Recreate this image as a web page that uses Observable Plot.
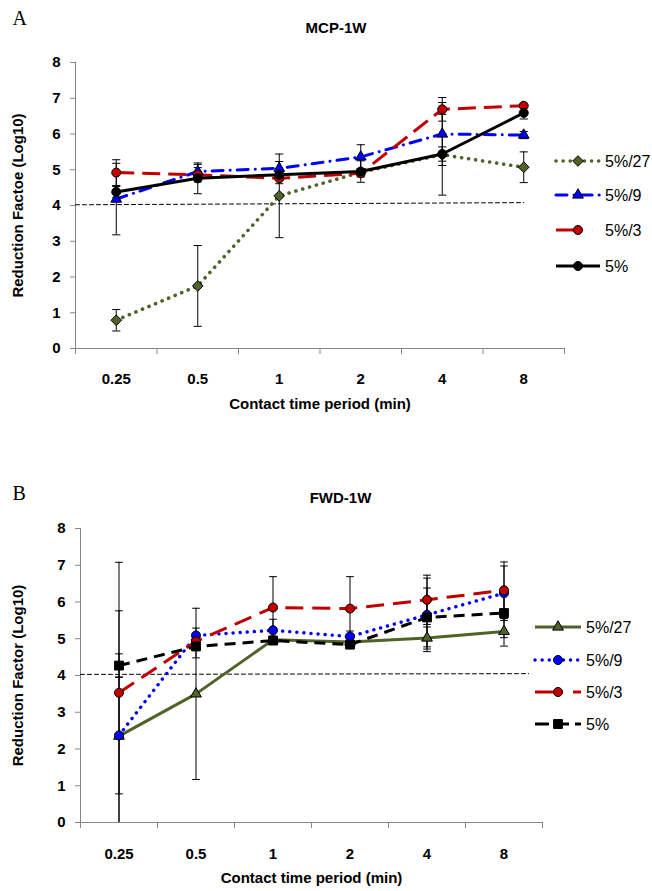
<!DOCTYPE html>
<html><head><meta charset="utf-8">
<script src="https://cdn.jsdelivr.net/npm/d3@7"></script>
<script src="https://cdn.jsdelivr.net/npm/@observablehq/plot@0.6"></script>
<style>body{margin:0;background:#fff} svg{display:block}</style>
</head><body><div id="chart"></div><script>
// ---- data ----
const times = ["0.25", "0.5", "1", "2", "4", "8"];
const seriesNames = ["5%/27", "5%/9", "5%/3", "5%"];
const yTicks = [0, 1, 2, 3, 4, 5, 6, 7, 8];

// Panel A: MCP-1W
const a27 = [0.79, 1.75, 4.27, 4.93, 5.42, 5.07];
const a9  = [4.18, 4.95, 5.04, 5.36, 6.00, 5.97];
const a3  = [4.92, 4.86, 4.76, 4.90, 6.69, 6.79];
const a5  = [4.38, 4.76, 4.86, 4.95, 5.44, 6.59];
const a27Err = [0.30, 1.13, 1.17, 0.10, 1.13, 0.43];
const a9Err  = [1.00, 0.20, 0.19, 0.34, 0.88, 0.10];
const a3Err  = [0.36, 0.20, 0.15, 0.10, 0.33, 0.05];
const a5Err  = [0.15, 0.43, 0.15, 0.30, 0.20, 0.17];
const aRefX = [-0.5, 5.0];
const aRefY = [4.02, 4.08];

// Panel B: FWD-1W
const b27 = [2.35, 3.50, 4.97, 4.91, 5.02, 5.20];
const b9  = [2.37, 5.09, 5.23, 5.06, 5.65, 6.24];
const b3  = [3.53, 4.93, 5.85, 5.82, 6.06, 6.32];
const b5  = [4.27, 4.79, 4.95, 4.84, 5.58, 5.70];
const b27Err = [3.41, 2.33, 0.10, 0.10, 0.30, 0.40];
const b9Err  = [1.59, 0.20, 0.30, 0.15, 1.00, 0.74];
const b3Err  = [3.55, 0.10, 0.84, 0.87, 0.67, 0.77];
const b5Err  = [0.32, 0.31, 0.10, 0.10, 0.80, 0.67];
const bRefX = [-0.5, 5.32];
const bRefY = [4.03, 4.05];

// ---- styles ----
const FONT = "'Liberation Sans', Arial, sans-serif";
const OLIVE = "#4f6228", BLUE = "#0000ff", RED = "#c00000", BLACK = "#000000";

function buildPanel(cfg) {
  const rows = [];
  cfg.series.forEach((s) => s.values.forEach((v, i) => rows.push({name: s.name, i, v, e: s.err[i]})));
  const lo = d => Math.max(0, d.v - d.e);
  const hi = d => Math.min(8, d.v + d.e);
  const cap = 0.05;
  const marks = [];
  marks.push(Plot.ruleY([0], {stroke: "#868686"}));
  marks.push(Plot.ruleX([-0.5], {stroke: "#868686"}));
  marks.push(Plot.axisY({ticks: yTicks, tickSize: 5, tickPadding: 10, stroke: "#868686", fill: "black",
    fontSize: 15, fontWeight: "bold", label: null}));
  marks.push(Plot.axisX({ticks: d3.range(-0.5, 6, 1), tickSize: 6, tickFormat: () => "", stroke: "#868686", label: null}));
  marks.push(Plot.axisX({ticks: d3.range(0, 6), tickSize: 0, tickPadding: cfg.xPad, tickFormat: i => times[i],
    fill: "black", fontSize: 15, fontWeight: "bold", label: null}));
  // reference threshold line
  marks.push(Plot.line(cfg.refX.map((x, k) => ({x, y: cfg.refY[k]})), {x: "x", y: "y", stroke: "black", strokeWidth: 1, strokeDasharray: "4,3"}));
  // series lines
  cfg.series.forEach(s => {
    marks.push(Plot.line(s.values.map((v, i) => ({i, v})), {x: "i", y: "v", stroke: s.color, strokeWidth: s.w || 3,
      strokeDasharray: s.dash, strokeLinecap: s.cap || "butt", strokeLinejoin: "round"}));
  });
  // error bars
  marks.push(Plot.ruleX(rows, {x: "i", y1: lo, y2: hi, stroke: "black", strokeWidth: 1}));
  marks.push(Plot.link(rows, {x1: d => d.i - cap, x2: d => d.i + cap, y1: hi, y2: hi, stroke: "black", strokeWidth: 1}));
  marks.push(Plot.link(rows.filter(d => d.v - d.e > 0), {x1: d => d.i - cap, x2: d => d.i + cap, y1: lo, y2: lo, stroke: "black", strokeWidth: 1}));
  // markers
  cfg.series.forEach(s => {
    marks.push(Plot.dot(s.values.map((v, i) => ({i, v})), {x: "i", y: "v", symbol: s.symbol, r: s.r, fill: s.color, stroke: "black", strokeWidth: 1}));
  });
  // texts: title, panel letter, y-axis label, x-axis label
  marks.push(Plot.text([cfg.title], {frameAnchor: "top", dx: cfg.titleDx, dy: cfg.titleDy, fontSize: 15, fontWeight: "bold", fontFamily: FONT, fill: "black"}));
  marks.push(Plot.text([cfg.letter], {frameAnchor: "top-left", dx: cfg.letterDx, dy: cfg.letterDy, fontSize: 20, fontFamily: "'Liberation Serif', 'Times New Roman', serif", fill: "black", textAnchor: "start"}));
  marks.push(Plot.text([cfg.yLabel], {frameAnchor: "left", dx: cfg.yLabelDx, rotate: -90, textAnchor: "middle", lineAnchor: "middle", fontSize: 15, fontWeight: "bold", fontFamily: FONT, fill: "black"}));
  marks.push(Plot.text([cfg.xLabel], {frameAnchor: "bottom", dy: cfg.xLabelDy, fontSize: 15, fontWeight: "bold", fontFamily: FONT, fill: "black"}));

  const svg = Plot.plot({
    width: 652, height: cfg.height,
    marginLeft: cfg.ml, marginRight: cfg.mr, marginTop: cfg.mt, marginBottom: cfg.mb,
    style: {fontFamily: FONT, background: "white", overflow: "visible"},
    x: {domain: [-0.5, 5.5], axis: null},
    y: {domain: [0, 8], axis: null},
    marks
  });

  // legend
  const g = d3.select(svg).append("g").attr("font-family", FONT).attr("font-size", 16).attr("text-anchor", "start");
  const symMap = {circle: d3.symbolCircle, triangle: d3.symbolTriangle, diamond2: d3.symbolDiamond2, square: d3.symbolSquare};
  cfg.series.forEach((s, k) => {
    const y = cfg.legendY[k];
    const x0 = cfg.legendX, x1 = cfg.legendX + cfg.legendW;
    g.append("line").attr("x1", x0).attr("x2", x1).attr("y1", y).attr("y2", y)
      .attr("stroke", s.color).attr("stroke-width", s.w || 3)
      .attr("stroke-dasharray", s.legendDash || s.dash || null)
      .attr("stroke-linecap", s.cap || "butt");
    g.append("path").attr("d", d3.symbol(symMap[s.symbol], Math.PI * s.r * s.r)())
      .attr("transform", `translate(${(x0 + x1) / 2},${y})`)
      .attr("fill", s.color).attr("stroke", "black").attr("stroke-width", 1);
    g.append("text").attr("x", x1 + 5).attr("y", y).attr("dy", "0.36em").attr("fill", "black")
      .attr("font-size", 16).attr("text-anchor", "start").text(s.name);
  });
  return svg;
}

const panelA = buildPanel({
  title: "MCP-1W", letter: "A",
  yLabel: "Reduction Factoe (Log10)", xLabel: "Contact time period (min)",
  height: 445, ml: 75, mr: 88, mt: 62, mb: 97,
  xPad: 25, titleDx: 16, titleDy: -40, letterDx: -63, letterDy: -52, yLabelDx: -57, xLabelDy: 60,
  refX: aRefX, refY: aRefY,
  legendX: 556, legendW: 44, legendY: [161, 195, 230, 266],
  series: [
    {name: seriesNames[0], values: a27, err: a27Err, color: OLIVE, dash: "0.1,7", cap: "round", w: 3.6, symbol: "diamond2", r: 4.8},
    {name: seriesNames[1], values: a9, err: a9Err, color: BLUE, dash: "11,7,0.1,7", cap: "round", symbol: "triangle", r: 4},
    {name: seriesNames[2], values: a3, err: a3Err, color: RED, dash: "18,8", legendDash: "24,12,0.1,12", symbol: "circle", r: 4.5},
    {name: seriesNames[3], values: a5, err: a5Err, color: BLACK, dash: null, symbol: "circle", r: 4.5}
  ]
});

const panelB = buildPanel({
  title: "FWD-1W", letter: "B",
  yLabel: "Reduction Factor (Log10)", xLabel: "Contact time period (min)",
  height: 446, ml: 80, mr: 110, mt: 83, mb: 69,
  xPad: 26, titleDx: 29, titleDy: -36, letterDx: -68, letterDy: -43, yLabelDx: -62, xLabelDy: 60,
  refX: bRefX, refY: bRefY,
  legendX: 535, legendW: 46, legendY: [627, 660, 692, 724].map(v => v - 445),
  series: [
    {name: seriesNames[0], values: b27, err: b27Err, color: OLIVE, dash: null, symbol: "triangle", r: 4},
    {name: seriesNames[1], values: b9, err: b9Err, color: BLUE, dash: "0.1,7", cap: "round", w: 3.4, symbol: "circle", r: 4.5},
    {name: seriesNames[2], values: b3, err: b3Err, color: RED, dash: "18,9", legendDash: "28,10", symbol: "circle", r: 4.5},
    {name: seriesNames[3], values: b5, err: b5Err, color: BLACK, dash: "11,7", legendDash: "14,6", symbol: "square", r: 5}
  ]
});

const root = document.getElementById("chart");
root.appendChild(panelA);
root.appendChild(panelB);
</script></body></html>
